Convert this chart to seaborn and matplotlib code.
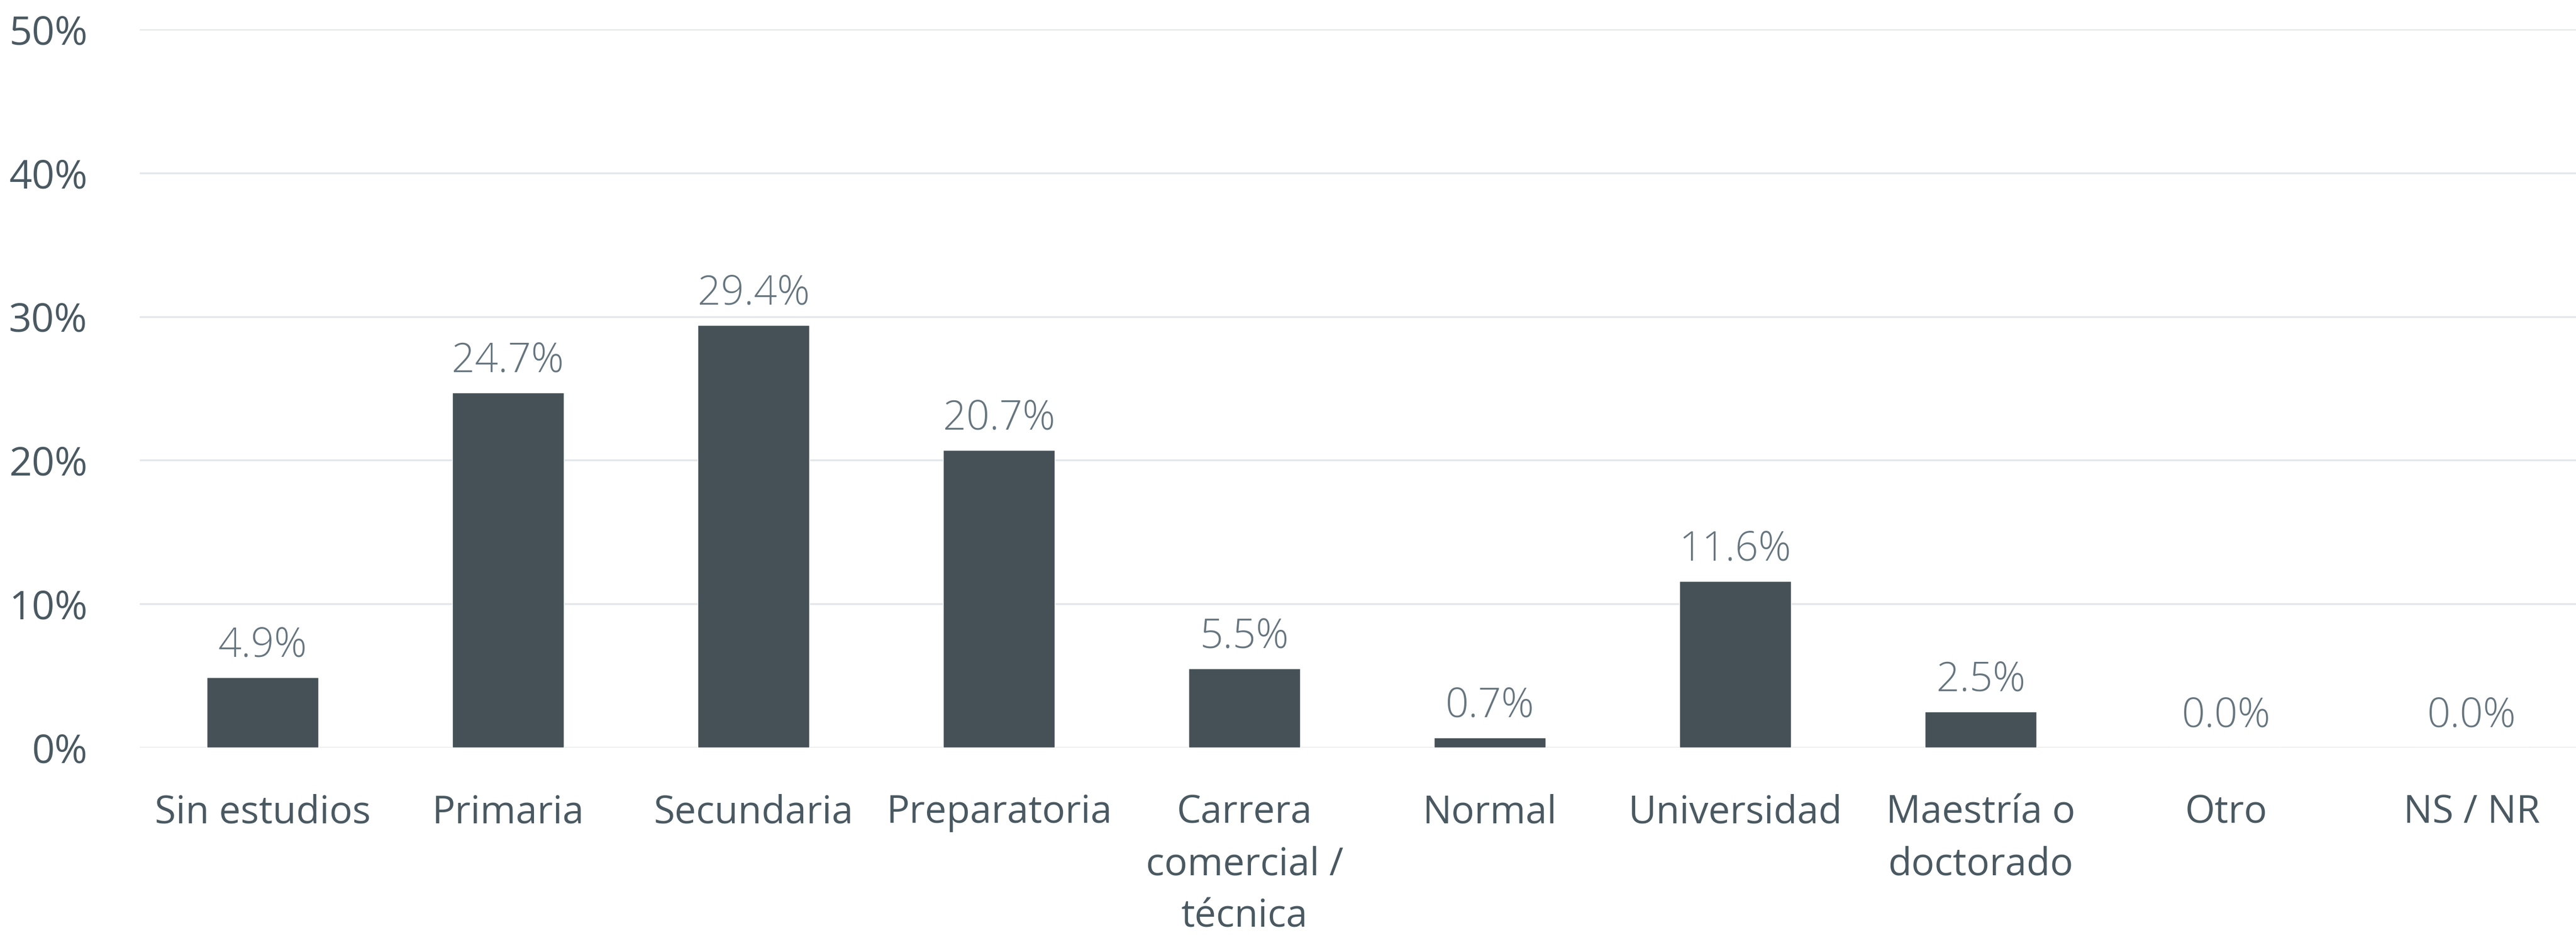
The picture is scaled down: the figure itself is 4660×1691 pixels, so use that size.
import matplotlib
matplotlib.use("Agg")
import matplotlib.pyplot as plt
import seaborn as sns
import pandas as pd
from matplotlib.ticker import FuncFormatter

categories = ["Sin estudios", "Primaria", "Secundaria", "Preparatoria",
              "Carrera\ncomercial /\ntécnica", "Normal", "Universidad",
              "Maestría o\ndoctorado", "Otro", "NS / NR"]
values = [4.9, 24.7, 29.4, 20.7, 5.5, 0.7, 11.6, 2.5, 0.0, 0.0]
y_ticks = [0, 10, 20, 30, 40, 50]

sns.set_theme(style="white")
plt.rcParams['font.family'] = ['Open Sans', 'DejaVu Sans']

df = pd.DataFrame({"cat": categories, "val": values})

fig = plt.figure(figsize=(46.60, 16.91), dpi=100)
ax = fig.add_axes([253/4660, 1 - 1352/1691, (4660 - 253)/4660, (1352 - 53)/1691])

sns.barplot(data=df, x="cat", y="val", color="#455157", width=0.455,
            saturation=1, ax=ax, zorder=3)

ax.set_ylim(0, 50)
ax.set_xlim(-0.5, 9.425)
ax.set_yticks(y_ticks)
ax.yaxis.set_major_formatter(FuncFormatter(lambda v, p: f"{int(v)}%"))
ax.grid(axis="y", color="#e3e7ea", linewidth=2.5, zorder=0)
ax.set_axisbelow(True)
for s in ax.spines.values():
    s.set_visible(False)
ax.set_xlabel("")
ax.set_ylabel("")
ax.tick_params(axis="both", length=0, labelsize=50, labelcolor="#4a5961")
ax.tick_params(axis="x", pad=60)
ax.tick_params(axis="y", pad=68)
for lbl in ax.get_xticklabels():
    lbl.set_linespacing(1.45)
for lbl in ax.get_yticklabels():
    lbl.set_horizontalalignment("right")
    lbl.set_fontsize(52)

for i, v in enumerate(values):
    ax.annotate(f"{v:.1f}%", xy=(i, v), xytext=(0, 14), textcoords="offset points",
                ha="center", va="bottom", fontsize=53, color="#66757e",
                fontweight="light")

fig.savefig("out.png", dpi=100, facecolor="white")
